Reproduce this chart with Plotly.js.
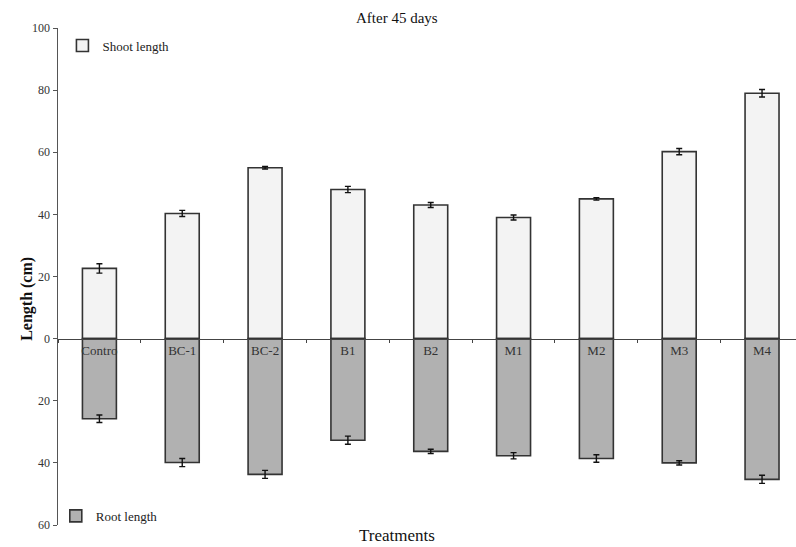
<!DOCTYPE html>
<html>
<head>
<meta charset="utf-8">
<script src="https://cdn.plot.ly/plotly-3.0.1.min.js"></script>
<style>html,body{margin:0;padding:0;background:#fff;}#chart{width:796px;height:547px;}</style>
</head>
<body>
<div id="chart"></div>
<script>
const categories = ["Control","BC-1","BC-2","B1","B2","M1","M2","M3","M4"];
const tickLabels = ["Contro","BC-1","BC-2","B1","B2","M1","M2","M3","M4"];
const shootLength = [22.6, 40.3, 55.0, 48.0, 43.0, 39.0, 45.0, 60.2, 79.0];
const shootError = [1.5, 1.0, 0.4, 1.0, 0.8, 0.8, 0.4, 1.0, 1.2];
const rootLength = [25.8, 39.9, 43.7, 32.7, 36.3, 37.7, 38.6, 40.0, 45.3];
const rootError = [1.2, 1.3, 1.3, 1.3, 0.7, 1.0, 1.2, 0.7, 1.3];
const yTickVals = [100, 80, 60, 40, 20, 0, -20, -40, -60];
const yTickText = ["100", "80", "60", "40", "20", "0", "20", "40", "60"];

const serif = "Liberation Serif, Times New Roman, serif";

const traces = [
  {
    type: "bar", name: "Shoot length", x: categories, y: shootLength,
    width: 0.41,
    marker: {color: "#f3f3f3", line: {color: "#333", width: 1.6}},
    error_y: {type: "data", array: shootError, visible: true, color: "#111", thickness: 1.4, width: 3},
    legend: "legend"
  },
  {
    type: "bar", name: "Root length", x: categories, y: rootLength.map(v => -v),
    width: 0.41,
    marker: {color: "#b1b1b1", line: {color: "#333", width: 1.6}},
    error_y: {type: "data", array: rootError, visible: true, color: "#111", thickness: 1.4, width: 3},
    legend: "legend2"
  }
];

const layout = {
  width: 796, height: 547,
  margin: {l: 58, r: 0, t: 28, b: 22},
  paper_bgcolor: "#fff", plot_bgcolor: "#fff",
  barmode: "relative",
  font: {family: serif, color: "#333"},
  showlegend: true,
  legend: {x: 0.006, y: 0.995, xanchor: "left", yanchor: "top", bgcolor: "rgba(0,0,0,0)",
           font: {family: serif, size: 13, color: "#222"}, itemwidth: 30},
  legend2: {x: -0.003, y: -0.012, xanchor: "left", yanchor: "bottom", bgcolor: "rgba(0,0,0,0)",
           font: {family: serif, size: 13, color: "#222"}, itemwidth: 30},
  xaxis: {
    type: "category", range: [-0.5, 8.41],
    anchor: "free", position: 0.375,
    showline: true, linecolor: "#444", linewidth: 1.2,
    ticks: "outside", tickson: "boundaries", ticklen: 3, tickcolor: "#444",
    tickvals: categories, ticktext: tickLabels,
    tickfont: {family: serif, size: 13, color: "#333"},
    showgrid: false, zeroline: false, fixedrange: true
  },
  yaxis: {
    range: [-60, 100], tickvals: yTickVals, ticktext: yTickText,
    showline: true, linecolor: "#555", linewidth: 1.5,
    ticks: "outside", ticklen: 4, tickcolor: "#555",
    tickfont: {family: serif, size: 12, color: "#333"},
    showgrid: false, zeroline: false
  },
  annotations: [
    {text: "After 45 days", xref: "paper", yref: "paper", x: 0.46, y: 1.0, yshift: 20,
     showarrow: false, font: {family: serif, size: 15, color: "#111"}},
    {text: "Treatments", xref: "paper", yref: "paper", x: 0.46, y: 0, yshift: -22,
     showarrow: false, font: {family: serif, size: 17, color: "#111"}},
    {text: "<b>Length (cm)</b>", xref: "paper", yref: "paper", x: 0, xshift: -42, y: 0.455,
     textangle: -90, showarrow: false, font: {family: serif, size: 16, color: "#111"}}
  ]
};

Plotly.newPlot("chart", traces, layout, {staticPlot: true});
</script>
</body>
</html>
